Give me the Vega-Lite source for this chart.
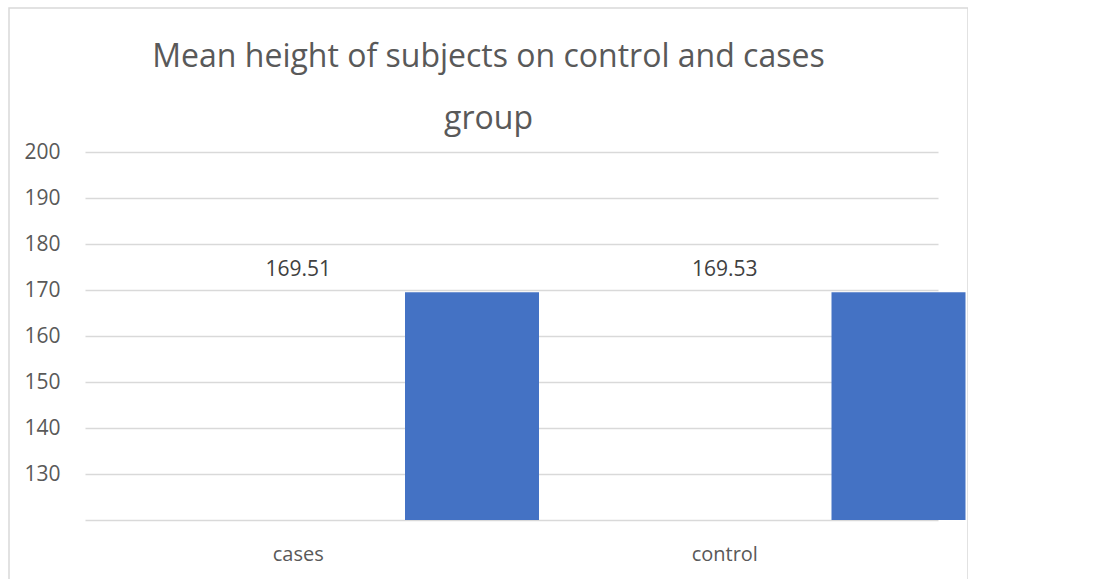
{
  "$schema": "https://vega.github.io/schema/vega-lite/v6.json",
  "width": 959,
  "height": 600,
  "autosize": {"type": "none"},
  "padding": {"left": 9, "top": 8, "right": 0, "bottom": 0},
  "background": "white",
  "title": {
    "text": ["Mean height of subjects on control and cases", "group"],
    "anchor": "middle",
    "frame": "group",
    "font": "Open Sans",
    "fontSize": 32,
    "fontWeight": "normal",
    "color": "#595959",
    "lineHeight": 62,
    "baseline": "top",
    "offset": -128
  },
  "config": {
    "view": {"stroke": "#d9d9d9", "strokeWidth": 1.5},
    "font": "Open Sans"
  },
  "data": {
    "values": [
      {"group": "cases", "series": "Mean height", "height": 169.51},
      {"group": "control", "series": "Mean height", "height": 169.53}
    ]
  },
  "encoding": {
    "x": {
      "field": "group",
      "type": "nominal",
      "sort": ["cases", "control"],
      "scale": {"range": [76, 929], "paddingInner": 0, "paddingOuter": 0},
      "axis": {
        "title": null,
        "orient": "bottom",
        "offset": -64,
        "domain": false,
        "ticks": false,
        "labelPadding": 0,
        "labelAngle": 0,
        "labelFont": "Open Sans",
        "labelFontSize": 20,
        "labelColor": "#595959",
        "grid": false
      }
    },
    "y": {
      "field": "height",
      "type": "quantitative",
      "scale": {"domain": [120, 200], "range": [512, 144], "nice": false, "zero": false},
      "axis": {
        "title": null,
        "values": [120, 130, 140, 150, 160, 170, 180, 190, 200],
        "labelExpr": "datum.value == 120 ? '' : datum.label",
        "offset": -51,
        "labelPadding": 0,
        "domain": false,
        "ticks": false,
        "grid": true,
        "gridColor": "#d9d9d9",
        "gridWidth": 1.5,
        "labelFont": "Open Sans",
        "labelFontSize": 21,
        "labelColor": "#595959"
      }
    }
  },
  "layer": [
    {
      "mark": {"type": "bar", "color": "#4472C4"},
      "encoding": {
        "y2": {"datum": 120},
        "xOffset": {
          "field": "series",
          "type": "nominal",
          "scale": {"range": [320, 454], "paddingInner": 0, "paddingOuter": 0}
        }
      }
    },
    {
      "mark": {"type": "text", "dy": -22, "baseline": "middle", "fontSize": 21, "color": "#404040", "font": "Open Sans"},
      "encoding": {
        "text": {"field": "height", "type": "quantitative", "format": ".2f"}
      }
    }
  ]
}
